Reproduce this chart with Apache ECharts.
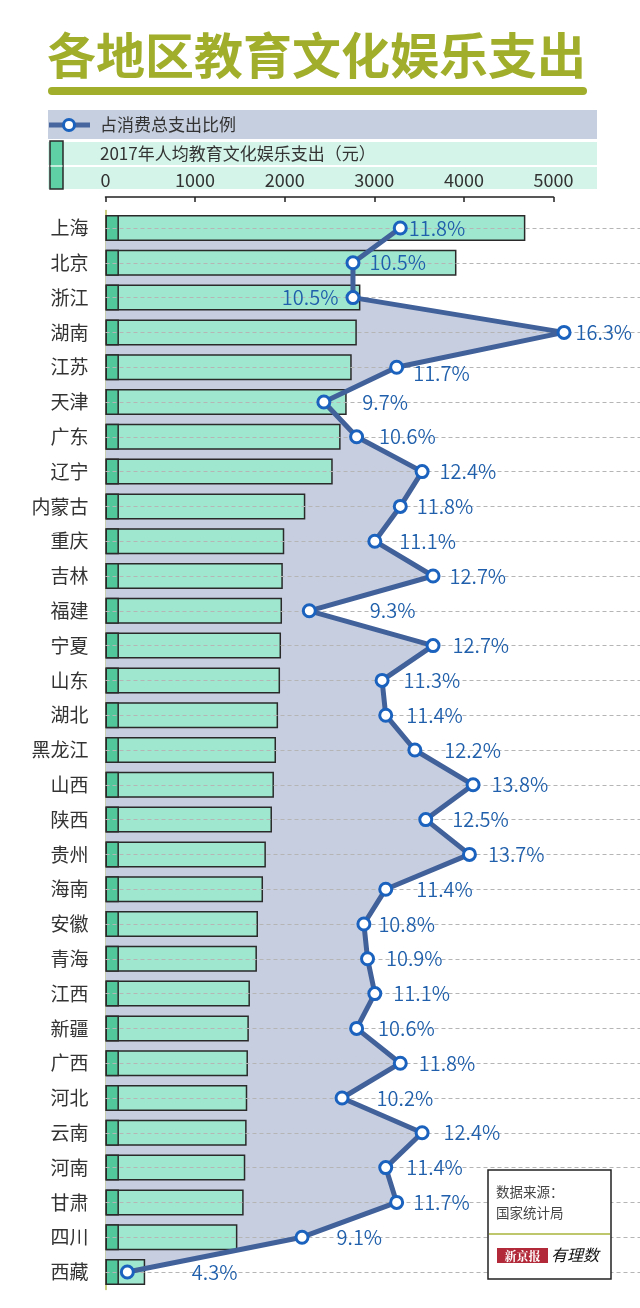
<!DOCTYPE html>
<html><head><meta charset="utf-8">
<script src="https://cdn.jsdelivr.net/npm/echarts@6/dist/echarts.min.js"></script>
<style>html,body{margin:0;padding:0;background:#fff}#c{width:640px;height:1308px}</style>
</head><body><div id="c"></div>
<script>
// ---- data ----
const categories = ['上海','北京','浙江','湖南','江苏','天津','广东','辽宁','内蒙古','重庆','吉林','福建','宁夏','山东','湖北','黑龙江','山西','陕西','贵州','海南','安徽','青海','江西','新疆','广西','河北','云南','河南','甘肃','四川','西藏'];
const spending = [4686, 3917, 2845, 2805, 2748, 2692, 2624, 2536, 2230, 1995, 1979, 1970, 1959, 1948, 1926, 1903, 1880, 1858, 1790, 1758, 1702, 1690, 1612, 1600, 1590, 1582, 1575, 1560, 1542, 1472, 443];
const share = [11.8, 10.5, 10.5, 16.3, 11.7, 9.7, 10.6, 12.4, 11.8, 11.1, 12.7, 9.3, 12.7, 11.3, 11.4, 12.2, 13.8, 12.5, 13.7, 11.4, 10.8, 10.9, 11.1, 10.6, 11.8, 10.2, 12.4, 11.4, 11.7, 9.1, 4.3];
const barAxisMax = 5000, barAxisStep = 1000;

// ---- styling (label placement tweaks per row, not data) ----
const labelGap = [1, 9, 7, 4, 9, 31, 15, 10, 9, 17, 9, 53, 12, 14, 13, 22, 11, 19, 11, 23, 7, 11, 11, 14, 11, 27, 14, 13, 9, 27, 57];
const labelLeftRow = 2;   // 浙江 label sits left of its point
const labelDownRow = 4;   // 江苏 label sits slightly lower
const STUB = 150;

const FONT = '"Noto Sans CJK SC","Noto Sans",sans-serif';
const OLIVE = '#a0ae2c';
const GL = 105.5, GW = 448, GT = 210.6, GH = 1078.8;
const band = GH / categories.length;

const chart = echarts.init(document.getElementById('c'), null, {renderer:'canvas'});
const lineData = share.map((v, i) => {
  const left = i === labelLeftRow;
  return {
    value: v,
    label: {
      position: left ? 'left' : 'right',
      distance: 0,
      offset: [left ? -labelGap[i] : labelGap[i], i === labelDownRow ? 6 : 0]
    }
  };
});

chart.setOption({
  backgroundColor: '#fff',
  animation: false,
  textStyle: {fontFamily: FONT},
  grid: [
    {left: GL, width: GW, top: GT, height: GH},
    {left: GL, right: 0, top: GT + band/2, height: GH - band}
  ],
  xAxis: [
    {gridIndex: 0, type: 'value', position: 'top', min: 0, max: barAxisMax, interval: barAxisStep, offset: 13.6, z: 10,
     axisLine: {show: true, lineStyle: {color: '#222', width: 1.5}},
     axisTick: {show: true, inside: true, length: 5, lineStyle: {color: '#222', width: 1.5}},
     axisLabel: {color: '#333', fontSize: 18, margin: 8, fontFamily: FONT, formatter: v => String(v)},
     splitLine: {show: false}},
    {gridIndex: 0, type: 'value', min: 3.7, max: 16.01, show: false},
    {gridIndex: 1, type: 'value', min: 0, max: 1, show: false}
  ],
  yAxis: [
    {gridIndex: 0, type: 'category', data: categories, inverse: true, offset: 8,
     axisLine: {show: true, lineStyle: {color: '#b7bc55', width: 1.5}},
     axisTick: {show: false},
     axisLabel: {color: '#333', fontSize: 19, margin: 9, interval: 0, fontFamily: FONT},
     splitLine: {show: false}},
    {gridIndex: 1, type: 'category', data: categories, inverse: true, boundaryGap: false, z: 3,
     axisLine: {show: false}, axisTick: {show: false, interval: 0}, axisLabel: {show: false},
     splitLine: {show: true, interval: 0, lineStyle: {color: '#b5b5b5', type: [4, 3], width: 1}}}
  ],
  series: [
    {type: 'line', xAxisIndex: 1, yAxisIndex: 0, data: share, symbol: 'none', z: 1, silent: true,
     lineStyle: {width: 0, opacity: 0}, areaStyle: {color: '#c7cee0', opacity: 1, origin: 'start'}},
    {type: 'bar', xAxisIndex: 0, yAxisIndex: 0, data: spending, barWidth: 26, z: 2,
     itemStyle: {color: '#9fe8cf', borderColor: '#2a2a2a', borderWidth: 1.5}},
    {type: 'bar', xAxisIndex: 0, yAxisIndex: 0, data: categories.map(() => STUB), barWidth: 26, barGap: '-100%', z: 2,
     itemStyle: {color: '#52c79b', borderColor: '#2a2a2a', borderWidth: 1.5}},
    {type: 'line', xAxisIndex: 1, yAxisIndex: 0, data: lineData, z: 5, clip: false,
     lineStyle: {color: '#41619b', width: 5},
     symbol: 'circle', symbolSize: 12,
     itemStyle: {color: '#fff', borderColor: '#1a62bd', borderWidth: 3},
     label: {show: true, formatter: '{c}%', color: '#1f5fab', fontSize: 20, fontWeight: 350, fontFamily: FONT}}
  ],
  graphic: [
    {type: 'text', left: 47, top: 31, z: 1, style: {text: '各地区教育文化娱乐支出', font: 'bold 49px ' + FONT, fill: OLIVE}},
    {type: 'rect', z: 1, shape: {x: 48, y: 87, width: 539, height: 8, r: 4}, style: {fill: OLIVE}},
    {type: 'rect', z: 0, shape: {x: 48, y: 110, width: 549, height: 29}, style: {fill: '#c6cfdf'}},
    {type: 'rect', z: 0, shape: {x: 48, y: 142, width: 549, height: 23}, style: {fill: '#d4f4e9'}},
    {type: 'rect', z: 0, shape: {x: 48, y: 167, width: 549, height: 22}, style: {fill: '#d4f4e9'}},
    {type: 'rect', z: 1, shape: {x: 50, y: 141, width: 13, height: 48}, style: {fill: '#5fcfa5', stroke: '#2a2a2a', lineWidth: 1.5}},
    {type: 'line', z: 1, shape: {x1: 50.5, y1: 166, x2: 62.5, y2: 166}, style: {stroke: '#e8f8f1', lineWidth: 1.5}},
    {type: 'line', z: 1, shape: {x1: 49, y1: 125, x2: 90, y2: 125}, style: {stroke: '#47669f', lineWidth: 5}},
    {type: 'circle', z: 2, shape: {cx: 69, cy: 125, r: 5.5}, style: {fill: '#fff', stroke: '#1a62bd', lineWidth: 3}},
    {type: 'text', z: 2, x: 100, y: 125, style: {text: '占消费总支出比例', font: '17px ' + FONT, fill: '#333', verticalAlign: 'middle'}},
    {type: 'text', z: 2, x: 100, y: 154, style: {text: '2017年人均教育文化娱乐支出（元）', font: '17px ' + FONT, fill: '#333', verticalAlign: 'middle'}},
    // source box
    {type: 'rect', z: 20, shape: {x: 488, y: 1170, width: 123, height: 109}, style: {fill: '#fff', stroke: '#222', lineWidth: 1.5}},
    {type: 'text', z: 21, x: 496, y: 1192, style: {text: '数据来源：', font: '13.5px ' + FONT, fill: '#444', verticalAlign: 'middle'}},
    {type: 'text', z: 21, x: 496, y: 1213, style: {text: '国家统计局', font: '13.5px ' + FONT, fill: '#444', verticalAlign: 'middle'}},
    {type: 'line', z: 21, shape: {x1: 489, y1: 1234, x2: 610, y2: 1234}, style: {stroke: '#a8b43a', lineWidth: 1.5}},
    {type: 'rect', z: 21, shape: {x: 497, y: 1248, width: 51, height: 15}, style: {fill: '#b22a3a'}},
    {type: 'text', z: 22, x: 522.5, y: 1256, style: {text: '新京报', font: 'bold 12px "Noto Serif CJK SC","Noto Sans CJK SC",serif', fill: '#fff', align: 'center', verticalAlign: 'middle'}},
    {type: 'text', z: 22, x: 551, y: 1255, style: {text: '有理数', font: 'italic 16px ' + FONT, fill: '#111', verticalAlign: 'middle'}}
  ]
});
</script></body></html>
